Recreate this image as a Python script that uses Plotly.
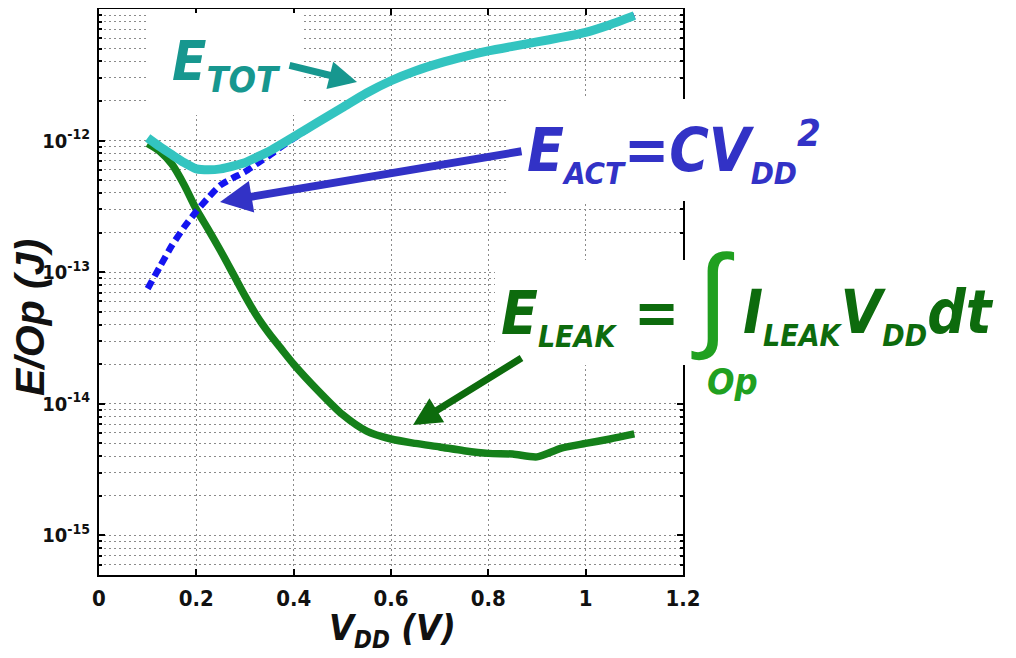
import plotly.graph_objects as go

# ---------------- data ----------------
V = [0.10, 0.125, 0.15, 0.175, 0.20, 0.225, 0.25, 0.275, 0.30, 0.325, 0.35,
     0.375, 0.40, 0.45, 0.50, 0.55, 0.60, 0.65, 0.70, 0.75, 0.80, 0.85,
     0.90, 0.95, 1.00, 1.05, 1.10]

E_TOT = [1.05e-12, 9.0e-13, 7.8e-13, 6.8e-13, 6.1e-13, 6.0e-13, 6.1e-13,
         6.4e-13, 6.8e-13, 7.5e-13, 8.3e-13, 9.4e-13, 1.07e-12, 1.38e-12,
         1.78e-12, 2.3e-12, 2.85e-12, 3.38e-12, 3.88e-12, 4.35e-12, 4.8e-12,
         5.2e-12, 5.62e-12, 6.08e-12, 6.65e-12, 7.6e-12, 8.9e-12]

E_ACT = [7.5e-14, 1.1e-13, 1.6e-13, 2.2e-13, 2.9e-13, 3.7e-13, 4.6e-13,
         5.2e-13, 5.8e-13, 6.7e-13, 7.7e-13, 9.0e-13, 1.04e-12, 1.37e-12,
         1.77e-12, 2.29e-12, 2.84e-12, 3.37e-12, 3.87e-12, 4.34e-12, 4.79e-12,
         5.19e-12, 5.61e-12, 6.07e-12, 6.64e-12, 7.59e-12, 8.89e-12]

E_LEAK = [9.5e-13, 8.3e-13, 6.6e-13, 4.6e-13, 3.0e-13, 2.1e-13, 1.45e-13,
          9.8e-14, 6.6e-14, 4.6e-14, 3.4e-14, 2.6e-14, 2.0e-14, 1.26e-14,
          8.3e-15, 6.2e-15, 5.4e-15, 5.0e-15, 4.7e-15, 4.4e-15, 4.2e-15,
          4.15e-15, 3.95e-15, 4.6e-15, 5.0e-15, 5.4e-15, 5.9e-15]

x_ticks = [0, 0.2, 0.4, 0.6, 0.8, 1.0, 1.2]
x_tick_labels = ["0", "0.2", "0.4", "0.6", "0.8", "1", "1.2"]
y_ticks = [1e-15, 1e-14, 1e-13, 1e-12]
y_tick_labels = ['10<sup><span style="font-size:14px">-15</span></sup>',
                 '10<sup><span style="font-size:14px">-14</span></sup>',
                 '10<sup><span style="font-size:14px">-13</span></sup>',
                 '10<sup><span style="font-size:14px">-12</span></sup>']
y_minor = [m * 10.0 ** e for e in (-16, -15, -14, -13, -12) for m in range(2, 10)]

# ---------------- styling ----------------
W, H = 1016, 658
PAGE = 8                       # default body margin of the html page
L, R, T, B = 99, 683, 9, 575   # plot area in screen pixels
NARROW = "DejaVu Sans Condensed, Liberation Sans Narrow, Liberation Sans, Arial"
REG = "Liberation Sans, Arial"

C_TOT = "#33c4c0"
C_TOT_TXT = "#17978f"
C_ACT = "#1414f0"
C_ACT_TXT = "#3232c6"
C_LEAK = "#15801a"
C_LEAK_TXT = "#0d6b0d"
C_OP = "#20a020"


def px(x):
    return (x - L) / (R - L)


def py(y):
    return (B - y) / (B - T)


fig = go.Figure()
fig.add_trace(go.Scatter(x=V, y=E_LEAK, mode="lines",
                         line=dict(color=C_LEAK, width=7.5, shape="spline",
                                   smoothing=0.7)))
fig.add_trace(go.Scatter(x=V, y=E_ACT, mode="lines",
                         line=dict(color=C_ACT, width=6.5, dash="9px,5px",
                                   shape="spline", smoothing=0.6)))
fig.add_trace(go.Scatter(x=V, y=E_TOT, mode="lines",
                         line=dict(color=C_TOT, width=9, shape="spline",
                                   smoothing=0.6)))

xtickfont = dict(family=NARROW, size=22, color="#111111", weight="bold")
ytickfont = dict(family=NARROW, size=20, color="#111111", weight="bold")

fig.update_xaxes(range=[0, 1.2], tickmode="array", tickvals=x_ticks,
                 ticktext=x_tick_labels, ticks="inside", ticklen=6,
                 tickwidth=1.5, tickcolor="black", showline=True,
                 linecolor="black", linewidth=2, mirror="ticks",
                 showgrid=True, gridcolor="#8a8a8a", gridwidth=1,
                 griddash="2px,3px", zeroline=False, tickfont=xtickfont,
                 ticklabelstandoff=3, automargin=False)
fig.update_yaxes(type="log", range=[-15.301, -11.0], tickmode="array",
                 tickvals=y_ticks, ticktext=y_tick_labels, ticks="inside",
                 ticklen=6, tickwidth=1.5, tickcolor="black", showline=True,
                 linecolor="black", linewidth=2, mirror="ticks",
                 showgrid=True, gridcolor="#8a8a8a", gridwidth=1,
                 griddash="2px,3px", zeroline=False, tickfont=ytickfont,
                 ticklabelstandoff=3, automargin=False,
                 minor=dict(tickmode="array", tickvals=y_minor, ticks="inside",
                            ticklen=3, tickcolor="black", showgrid=True,
                            gridcolor="#8a8a8a", gridwidth=1,
                            griddash="2px,3px"))

# white patches of the original figure
shapes = []
for (x0, y0, x1, y1) in [(507, 99, 1016, 201), (495, 260, 1016, 365),
                         (148, 13, 303, 115)]:
    shapes.append(dict(type="rect", xref="paper", yref="paper",
                       x0=px(x0), x1=px(x1), y0=py(y0), y1=py(y1),
                       fillcolor="white", line=dict(width=0), layer="above"))

ann = []
# E_TOT label
ann.append(dict(xref="paper", yref="paper", x=px(170), y=py(26),
                xanchor="left", yanchor="top", showarrow=False,
                text='E<sub><span style="font-size:36px">TOT</span></sub>',
                font=dict(family=NARROW, size=56, color=C_TOT_TXT,
                          weight="bold", style="italic")))
# E_ACT label
ann.append(dict(xref="paper", yref="paper", x=px(525), y=py(109),
                xanchor="left", yanchor="top", showarrow=False,
                text='E<sub><span style="font-size:31px">ACT</span></sub>=CV'
                     '<sub><span style="font-size:31px">DD</span></sub>'
                     '<sup><span style="font-size:38px">2</span></sup>',
                font=dict(family=NARROW, size=60, color=C_ACT_TXT,
                          weight="bold", style="italic")))
# E_LEAK label
ann.append(dict(xref="paper", yref="paper", x=px(499), y=py(276),
                xanchor="left", yanchor="top", showarrow=False,
                text='E<sub><span style="font-size:30px">LEAK</span></sub> =',
                font=dict(family=NARROW, size=60, color=C_LEAK_TXT,
                          weight="bold", style="italic")))
ann.append(dict(xref="paper", yref="paper", x=px(713), y=py(296),
                xanchor="center", yanchor="middle", showarrow=False,
                text='\u222b',
                font=dict(family=REG, size=115, color=C_OP)))
ann.append(dict(xref="paper", yref="paper", x=px(705), y=py(359),
                xanchor="left", yanchor="top", showarrow=False,
                text='Op',
                font=dict(family=NARROW, size=36, color=C_OP,
                          weight="bold", style="italic")))
ann.append(dict(xref="paper", yref="paper", x=px(741), y=py(275),
                xanchor="left", yanchor="top", showarrow=False,
                text='I<sub><span style="font-size:30px">LEAK</span></sub>V'
                     '<sub><span style="font-size:30px">DD</span></sub>dt',
                font=dict(family=NARROW, size=60, color=C_LEAK_TXT,
                          weight="bold", style="italic")))

# arrows
for (hx, hy, tx, ty, col, w) in [(357, 82, 288, 65, C_TOT_TXT, 7),
                                 (220, 202, 523, 151, C_ACT_TXT, 8),
                                 (413, 425, 523, 357, C_LEAK_TXT, 7)]:
    ann.append(dict(xref="paper", yref="paper", x=px(hx), y=py(hy),
                    ax=tx - hx, ay=ty - hy, text="", showarrow=True,
                    arrowhead=2, arrowsize=0.8, arrowwidth=w, arrowcolor=col))

# axis titles
ann.append(dict(xref="paper", yref="paper", x=px(30), y=py(318),
                xanchor="center", yanchor="middle", showarrow=False,
                textangle=-90, text="E/Op (J)",
                font=dict(family=REG, size=41, color="#111111",
                          weight="bold", style="italic")))
ann.append(dict(xref="paper", yref="paper", x=px(392), y=py(630),
                xanchor="center", yanchor="middle", showarrow=False,
                text='V<sub><span style="font-size:24px">DD</span></sub> (V)',
                font=dict(family=NARROW, size=36, color="#111111",
                          weight="bold", style="italic")))

fig.update_layout(width=W, height=H,
                  margin=dict(l=L - PAGE, r=W - R + PAGE, t=T - PAGE,
                              b=H - B + PAGE),
                  plot_bgcolor="white", paper_bgcolor="white",
                  showlegend=False, shapes=shapes, annotations=ann)

fig.write_html("out.html")
